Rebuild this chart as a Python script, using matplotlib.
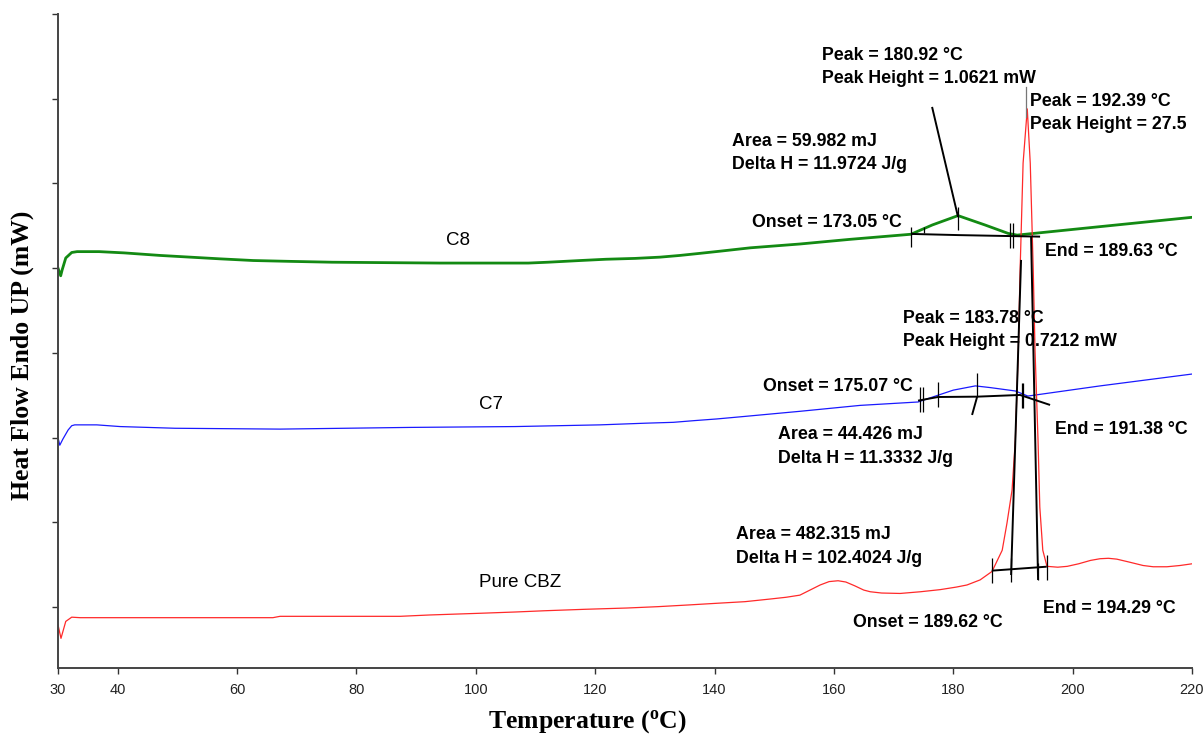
import matplotlib
matplotlib.use("Agg")
import matplotlib.pyplot as plt
import numpy as np

# ---------------- data (temperature in °C, heat flow in arbitrary offset mW units) -------------
c8_T = [30.0, 30.45, 30.7, 31.3, 32.3, 33.2, 36.9, 41.1, 47.1, 52.1, 57.1, 62.7, 68.9, 75.9, 94.0,
        108.8, 112.1, 117.5, 121.8, 126.7, 130.9, 134.2, 137.6, 140.9, 146.0, 154.3, 162.7, 172.9,
        176.5, 180.8, 185.3, 189.2, 190.7, 204.6, 220.0]
c8_Q = [4.00, 3.91, 3.98, 4.12, 4.185, 4.195, 4.195, 4.18, 4.15, 4.13, 4.11, 4.09, 4.08, 4.07, 4.06,
        4.06, 4.07, 4.09, 4.105, 4.115, 4.13, 4.15, 4.175, 4.20, 4.24, 4.285, 4.34, 4.40,
        4.51, 4.62, 4.51, 4.41, 4.39, 4.49, 4.60]

c7_T = [30.0, 30.3, 30.8, 31.7, 32.3, 32.8, 36.5, 40.4, 49.6, 67.2, 89.0, 106.6, 120.8, 128.5,
        133.1, 136.6, 140.4, 145.1, 154.3, 164.4, 174.1, 176.6, 180.0, 183.7, 186.2, 190.4, 192.5,
        204.6, 220.0]
c7_Q = [2.00, 1.91, 1.98, 2.09, 2.14, 2.15, 2.15, 2.13, 2.11, 2.10, 2.12, 2.13, 2.15, 2.17,
        2.18, 2.20, 2.22, 2.25, 2.31, 2.38, 2.42, 2.48, 2.56, 2.61, 2.59, 2.55, 2.49,
        2.61, 2.75]

cbz_T = [30.0, 30.5, 31.3, 32.3, 33.7, 66.0, 67.2, 87.3, 92.3, 100.7, 106.6, 111.6, 118.3, 125.3,
         130.5, 135.6, 140.4, 145.1, 149.3, 152.0, 154.3, 156.0, 157.7, 159.2, 160.7, 162.0, 163.5,
         165.0, 166.1, 168.0, 171.1, 174.5, 177.8, 180.5, 182.3, 184.5,
         186.5, 188.2, 189.0, 189.85, 190.4, 190.9, 191.2, 191.7, 192.4, 192.9, 193.4, 193.7,
         194.2, 194.5, 195.0, 195.7, 197.5, 199.1, 201.0, 203.0, 204.6, 206.0, 207.4, 209.5,
         211.8, 213.5, 215.8, 218.0, 220.0]
cbz_Q = [-0.21, -0.37, -0.17, -0.12, -0.126, -0.126, -0.11, -0.11, -0.094, -0.074, -0.059, -0.044,
         -0.027, -0.012, 0.004, 0.024, 0.044, 0.063, 0.094, 0.115, 0.14, 0.20, 0.26, 0.30, 0.31,
         0.295, 0.25, 0.20, 0.18, 0.165, 0.16, 0.18, 0.205, 0.235, 0.26, 0.32,
         0.42, 0.67, 0.99, 1.38, 1.97, 3.03, 3.98, 5.24, 5.88, 5.24, 3.98, 3.03,
         1.97, 1.18, 0.67, 0.48, 0.47, 0.48, 0.51, 0.55, 0.57, 0.575, 0.565, 0.53,
         0.49, 0.475, 0.475, 0.49, 0.51]

x_ticks = [30, 40, 60, 80, 100, 120, 140, 160, 180, 200, 220]
y_ticks = [0, 1, 2, 3, 4, 5, 6, 7]

series_names = ["C8", "C7", "Pure CBZ"]
series_colors = ["#138a13", "#1a1aff", "#ff2a2a"]

# analysis (software) construction lines: lists of (T, Q) points
c8_baseline_T = [172.93, 180.9, 194.55]
c8_baseline_Q = [4.404, 4.39, 4.372]
c8_leader_T = [176.45, 180.80]
c8_leader_Q = [5.903, 4.604]
c8_tick_T = [172.93, 175.11, 180.80, 189.52, 190.02]
c8_tick_lo = [4.25, 4.415, 4.45, 4.238, 4.238]
c8_tick_hi = [4.486, 4.486, 4.72, 4.534, 4.534]

c7_baseline_T = [174.10, 177.45, 183.99, 191.19, 196.22]
c7_baseline_Q = [2.436, 2.479, 2.483, 2.503, 2.385]
c7_tick_T = [174.44, 174.94, 177.45, 183.99, 191.53, 191.70]
c7_tick_lo = [2.302, 2.302, 2.361, 2.479, 2.350, 2.350]
c7_tick_hi = [2.597, 2.597, 2.656, 2.763, 2.645, 2.645]
c7_drop_T = [183.99, 183.15]
c7_drop_Q = [2.479, 2.267]

cbz_left_T = [191.36, 189.69]
cbz_left_Q = [4.097, 0.378]
cbz_right_T = [193.04, 194.21]
cbz_right_Q = [4.368, 0.319]
cbz_peak_T = [192.2, 192.2]
cbz_peak_Q = [6.14, 5.79]
cbz_baseline_T = [186.45, 195.66]
cbz_baseline_Q = [0.429, 0.476]
cbz_tick_T = [186.45, 189.63, 194.21, 195.71]
cbz_tick_lo = [0.283, 0.295, 0.319, 0.319]
cbz_tick_hi = [0.579, 0.579, 0.519, 0.614]

# annotation texts: (text, T, Q, horizontal alignment)
annotations = [
    ("Peak = 180.92 °C", 158.02, 6.509, "left"),
    ("Peak Height = 1.0621 mW", 158.02, 6.234, "left"),
    ("Peak = 192.39 °C", 192.87, 5.966, "left"),
    ("Peak Height = 27.5", 192.87, 5.699, "left"),
    ("Area = 59.982 mJ", 142.94, 5.494, "left"),
    ("Delta H = 11.9724 J/g", 142.94, 5.218, "left"),
    ("Onset = 173.05 °C", 146.29, 4.537, "left"),
    ("End = 189.63 °C", 195.38, 4.195, "left"),
    ("Peak = 183.78 °C", 171.54, 3.408, "left"),
    ("Peak Height = 0.7212 mW", 171.54, 3.132, "left"),
    ("Onset = 175.07 °C", 148.13, 2.601, "left"),
    ("End = 191.38 °C", 197.06, 2.090, "left"),
    ("Area = 44.426 mJ", 150.64, 2.031, "left"),
    ("Delta H = 11.3332 J/g", 150.64, 1.756, "left"),
    ("Area = 482.315 mJ", 143.61, 0.850, "left"),
    ("Delta H = 102.4024 J/g", 143.61, 0.575, "left"),
    ("Onset = 189.62 °C", 163.21, -0.185, "left"),
    ("End = 194.29 °C", 194.99, -0.015, "left"),
]
series_label_T = [97.0, 102.5, 107.4]
series_label_Q = [4.321, 2.385, 0.295]

# ---------------- figure ----------------
plt.rcParams["font.family"] = ["Liberation Sans", "DejaVu Sans"]
plt.rcParams["mathtext.fontset"] = "custom"
plt.rcParams["mathtext.rm"] = "Liberation Serif"
plt.rcParams["mathtext.bf"] = "Liberation Serif:bold"

fig = plt.figure(figsize=(12.04, 7.38), dpi=100)
ax = fig.add_axes([58 / 1204, 70 / 738, 1134 / 1204, 654 / 738])

ax.plot(c8_T, c8_Q, color=series_colors[0], lw=2.0, zorder=2)
ax.plot(c7_T, c7_Q, color=series_colors[1], lw=0.9, zorder=2)
ax.plot(cbz_T, cbz_Q, color=series_colors[2], lw=0.9, zorder=2)

blk = dict(color="black", lw=1.4, zorder=4, solid_capstyle="butt")
thin = dict(color="black", lw=0.9, zorder=4)
ax.plot(c8_baseline_T, c8_baseline_Q, **blk)
ax.plot(c8_leader_T, c8_leader_Q, **blk)
ax.vlines(c8_tick_T, c8_tick_lo, c8_tick_hi, **thin)
ax.plot(c7_baseline_T, c7_baseline_Q, **blk)
ax.plot(c7_drop_T, c7_drop_Q, **blk)
ax.vlines(c7_tick_T, c7_tick_lo, c7_tick_hi, **thin)
ax.plot(cbz_left_T, cbz_left_Q, **blk)
ax.plot(cbz_right_T, cbz_right_Q, **blk)
ax.plot(cbz_peak_T, cbz_peak_Q, color="#777777", lw=0.9, zorder=4)
ax.plot(cbz_baseline_T, cbz_baseline_Q, **blk)
ax.vlines(cbz_tick_T, cbz_tick_lo, cbz_tick_hi, **thin)

for txt, t, q, ha in annotations:
    ax.text(t, q, txt, fontsize=12.8, fontweight="bold", ha=ha, va="center",
            color="black", zorder=3, clip_on=False)
for name, t, q in zip(series_names, series_label_T, series_label_Q):
    ax.text(t, q, name, fontsize=13.5, ha="center", va="center", color="black", zorder=3)

ax.set_xlim(30, 220)
ax.set_ylim(-0.72, 7.0)
ax.set_xticks(x_ticks)
ax.set_yticks(y_ticks)
ax.set_yticklabels([])
ax.tick_params(axis="x", direction="out", length=4.5, width=1.0, colors="#333333",
               labelsize=10.5, pad=6, labelcolor="#222222")
ax.tick_params(axis="y", direction="out", length=4.5, width=1.0, colors="#333333")
for s in ["top", "right"]:
    ax.spines[s].set_visible(False)
for s in ["left", "bottom"]:
    ax.spines[s].set_color("#444444")
    ax.spines[s].set_linewidth(1.4)

fig.text(587 / 1204, (738 - 722) / 738, r"Temperature ($\mathbf{^{o}}$C)",
         family="Liberation Serif", fontweight="bold", fontsize=18.5,
         ha="center", va="center")
fig.text(22 / 1204, (738 - 355) / 738, "Heat Flow Endo UP (mW)",
         family="Liberation Serif", fontweight="bold", fontsize=18.5,
         ha="center", va="center", rotation=90)

fig.savefig("out.png", dpi=100)
